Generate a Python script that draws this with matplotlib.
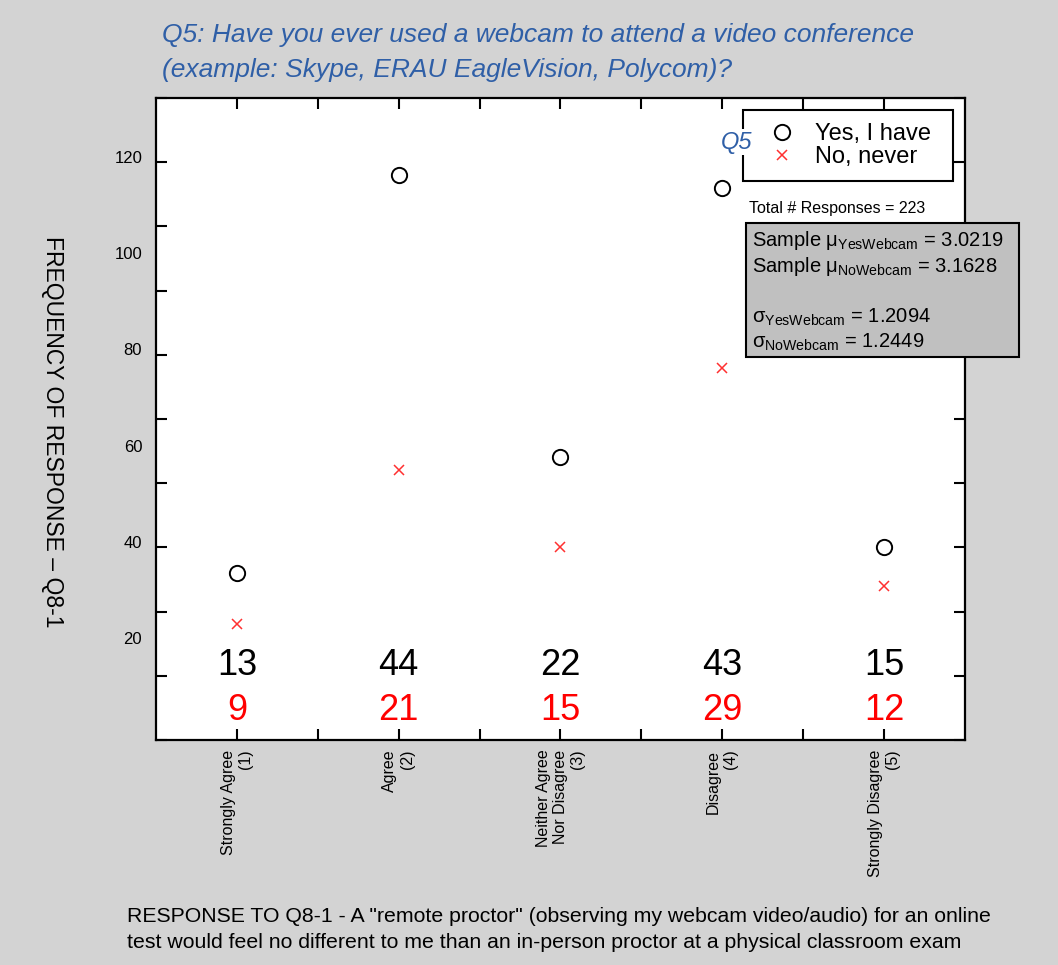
import matplotlib
matplotlib.use('Agg')
import matplotlib.pyplot as plt
from matplotlib.patches import Rectangle

# data
categories = ['Strongly Agree\n(1)', 'Agree\n(2)', 'Neither Agree\nNor Disagree\n(3)', 'Disagree\n(4)', 'Strongly Disagree\n(5)']
positions = [1, 2, 3, 4, 5]
yes_counts = [13, 44, 22, 43, 15]
no_counts = [9, 21, 15, 29, 12]
side_labels = ['20', '40', '60', '80', '100', '120']
side_label_pos = [7.8, 15.3, 22.8, 30.3, 37.8, 45.3]

plt.rcParams['font.family'] = ['Liberation Sans', 'DejaVu Sans']
plt.rcParams['mathtext.fontset'] = 'custom'
plt.rcParams['mathtext.rm'] = 'Liberation Sans'

grey = '#d3d3d3'
blue = '#2f5fa7'

fig = plt.figure(figsize=(10.58, 9.65), dpi=100, facecolor=grey)
ax = fig.add_axes([0.1474, 0.2332, 0.7647, 0.6653])
ax.set_facecolor('white')

ax.plot(positions, yes_counts, 'o', mfc='none', mec='black', ms=11, mew=1.4, ls='none', label='Yes, I have')
ax.plot(positions, no_counts, 'x', color='#ff3030', ms=7, mew=1.1, ls='none', label='No, never')

ax.set_xlim(0.5, 5.5)
ax.set_ylim(0, 50)
ax.set_xticks(positions)
ax.set_xticks([1.5, 2.5, 3.5, 4.5], minor=True)
ax.set_xticklabels(categories, rotation=90, fontsize=11.5, ha='center', va='top', multialignment='right')
ax.set_yticks(range(0, 51, 5))
ax.set_yticklabels([])
ax.tick_params(axis='both', which='both', direction='in', length=8, width=1.5, top=True, right=True, pad=7)
for s in ax.spines.values():
    s.set_linewidth(1.6)

# floating frequency labels at left
for lab, yv in zip(side_labels, side_label_pos):
    ax.text(-0.017, yv, lab, transform=ax.get_yaxis_transform(), ha='right', va='center', fontsize=12)

# count annotations
for x, y, n in zip(positions, yes_counts, no_counts):
    ax.text(x, 5.8, str(y), ha='center', va='center', fontsize=26, color='black')
    ax.text(x, 2.3, str(n), ha='center', va='center', fontsize=26, color='red')

leg = ax.legend(loc='upper left', bbox_to_anchor=(0.7256, 0.874, 0.2596, 0.107), mode='expand',
                borderaxespad=0, fancybox=False, framealpha=1, edgecolor='black', prop={'size': 17},
                handletextpad=0.3, borderpad=0.55, labelspacing=0.05, handlelength=2.2)
leg.get_frame().set_linewidth(1.5)

fig.text(752 / 1058, 1 - 142 / 965, 'Q5', color=blue, style='italic', fontsize=17, ha='right', va='center',
         zorder=10, bbox=dict(facecolor='white', edgecolor='none', pad=1))
fig.text(749 / 1058, 1 - 208 / 965, 'Total # Responses = 223', fontsize=11.5, ha='left', va='center')

# stats box
fig.patches.append(Rectangle((746 / 1058, 1 - 357 / 965), (1019 - 746) / 1058, (357 - 223) / 965,
                             transform=fig.transFigure, facecolor='#c0c0c0', edgecolor='black', lw=1.5))
stats = [r'Sample $\mathregular{\mu_{YesWebcam}}$ = 3.0219',
         r'Sample $\mathregular{\mu_{NoWebcam}}$ = 3.1628',
         r'$\mathregular{\sigma_{YesWebcam}}$ = 1.2094',
         r'$\mathregular{\sigma_{NoWebcam}}$ = 1.2449']
for txt, yp in zip(stats, [240, 266, 317, 342]):
    fig.text(752 / 1058, 1 - yp / 965, txt, fontsize=14.5, ha='left', va='center')

fig.text(162 / 1058, 1 - 35 / 965, 'Q5: Have you ever used a webcam to attend a video conference',
         style='italic', color=blue, fontsize=19, ha='left', va='center')
fig.text(162 / 1058, 1 - 70 / 965, '(example: Skype, ERAU EagleVision, Polycom)?',
         style='italic', color=blue, fontsize=19, ha='left', va='center')

fig.text(52 / 1058, 1 - 432 / 965, 'FREQUENCY OF RESPONSE \u2013 Q8-1', rotation=-90, fontsize=16.5,
         ha='center', va='center')

fig.text(127 / 1058, 1 - 917 / 965, 'RESPONSE TO Q8-1 - A "remote proctor" (observing my webcam video/audio) for an online',
         fontsize=15.3, ha='left', va='center')
fig.text(127 / 1058, 1 - 942 / 965, 'test would feel no different to me than an in-person proctor at a physical classroom exam',
         fontsize=15.3, ha='left', va='center')

fig.savefig('out.png', dpi=100, facecolor=grey)
